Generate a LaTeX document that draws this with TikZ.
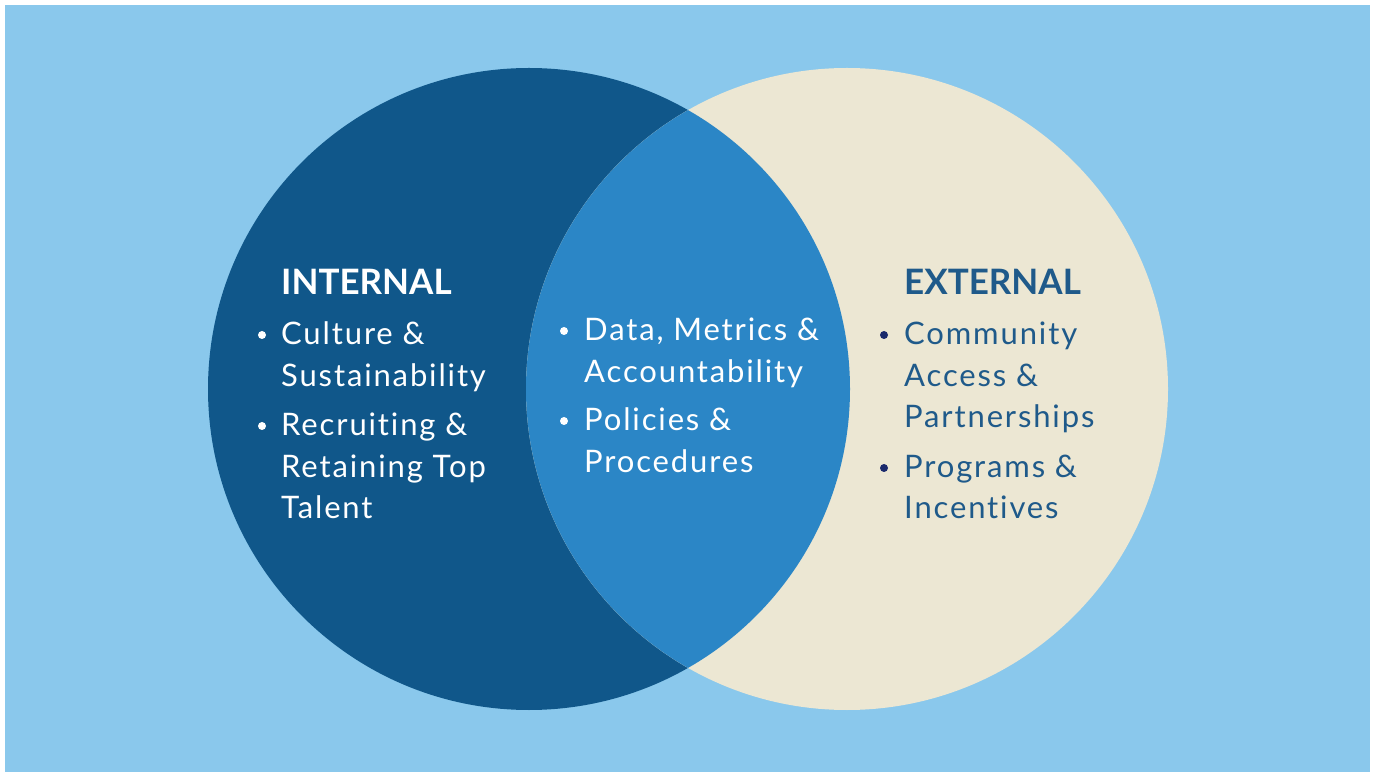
\documentclass[tikz,border=0pt]{standalone}
\usepackage{fontspec}
\setmainfont{Lato}[Ligatures=NoCommon]
\newfontfamily\bodyfont{Lato}[Ligatures=NoCommon, LetterSpace=6]
\begin{document}
\begin{tikzpicture}[x=1pt,y=1pt,
  bodytxt/.style={anchor=base west, inner sep=0pt, font=\bodyfont\fontsize{31}{40}\selectfont},
  headtxt/.style={anchor=base west, inner sep=0pt, font=\fontsize{35}{40}\selectfont\bfseries},
  dot/.style={circle, inner sep=0pt, minimum size=8pt},
]
\definecolor{skyblue}{HTML}{8AC8EC}
\definecolor{darkblue}{HTML}{10578A}
\definecolor{midblue}{HTML}{2B86C6}
\definecolor{cream}{HTML}{ECE7D3}
\definecolor{extblue}{HTML}{1F5A8A}
\definecolor{navydot}{HTML}{1A2A6C}

% canvas and background panel
\useasboundingbox (0,0) rectangle (1374,772);
\fill[white] (0,0) rectangle (1374,772);
\fill[skyblue] (5,0) rectangle (1370,767);

% the two sets and their overlap
\fill[darkblue] (529,383) circle (321);
\fill[cream] (847,383) circle (321);
\begin{scope}
  \clip (529,383) circle (321);
  \fill[midblue] (847,383) circle (321);
\end{scope}

% internal
\node[headtxt, text=white] (inthead) at (281,477) {INTERNAL};
\node[dot, fill=white] (ib1) at (262,437) {};
\node[bodytxt, text=white] (i1a) at (281,427) {Culture \&};
\node[bodytxt, text=white] (i1b) at (281,385) {Sustainability};
\node[dot, fill=white] (ib2) at (262,346) {};
\node[bodytxt, text=white] (i2a) at (281,336) {Recruiting \&};
\node[bodytxt, text=white] (i2b) at (281,294) {Retaining Top};
\node[bodytxt, text=white] (i2c) at (281,254) {Talent};

% shared
\node[dot, fill=white] (sb1) at (564,441) {};
\node[bodytxt, text=white] (s1a) at (584,431) {Data, Metrics \&};
\node[bodytxt, text=white] (s1b) at (584,389) {Accountability};
\node[dot, fill=white] (sb2) at (564,351) {};
\node[bodytxt, text=white] (s2a) at (584,341) {Policies \&};
\node[bodytxt, text=white] (s2b) at (584,299) {Procedures};

% external
\node[headtxt, text=extblue] (exthead) at (904,477) {EXTERNAL};
\node[dot, fill=navydot] (eb1) at (884,437) {};
\node[bodytxt, text=extblue] (e1a) at (904,427) {Community};
\node[bodytxt, text=extblue] (e1b) at (904,385) {Access \&};
\node[bodytxt, text=extblue] (e1c) at (904,344) {Partnerships};
\node[dot, fill=navydot] (eb2) at (884,304) {};
\node[bodytxt, text=extblue] (e2a) at (904,294) {Programs \&};
\node[bodytxt, text=extblue] (e2b) at (904,253) {Incentives};
\end{tikzpicture}
\end{document}
